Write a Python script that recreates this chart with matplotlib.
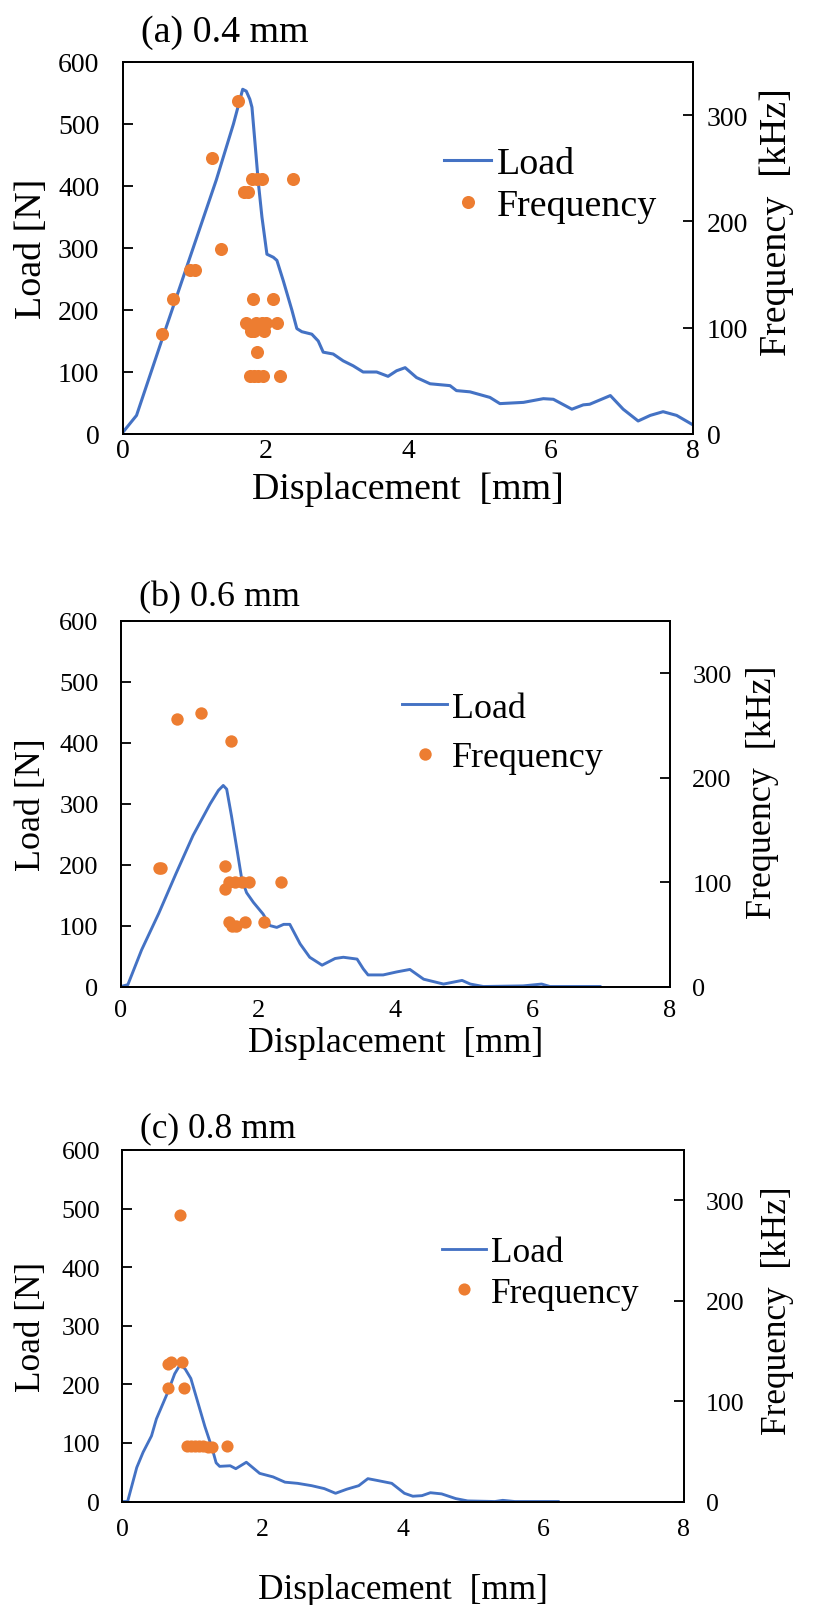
import matplotlib
matplotlib.use("Agg")
import matplotlib.pyplot as plt

plt.rcParams['font.family'] = ['Liberation Serif', 'DejaVu Serif']

# ---------------- data ----------------
# (a) 0.4 mm
disp_a = [0.00, 0.19, 0.57, 0.94, 1.31, 1.55, 1.68, 1.73, 1.78, 1.81, 1.85, 1.90, 1.95,
          2.02, 2.11, 2.16, 2.25, 2.37, 2.44, 2.51, 2.65, 2.74, 2.81, 2.95, 3.09, 3.23,
          3.37, 3.56, 3.72, 3.84, 3.96, 4.12, 4.31, 4.59, 4.68, 4.87, 5.15, 5.29, 5.62,
          5.90, 6.04, 6.30, 6.46, 6.55, 6.84, 7.02, 7.23, 7.40, 7.58, 7.77, 7.98]
load_a = [3, 30, 160, 285, 410, 500, 556, 553, 540, 527, 473, 405, 350,
          290, 285, 280, 247, 200, 170, 165, 161, 150, 132, 129, 118, 110,
          100, 100, 93, 102, 107, 91, 81, 78, 70, 68, 59, 49, 51,
          57, 56, 40, 47, 48, 62, 40, 21, 30, 36, 30, 16]
fd_a = [1.61, 1.25, 1.81, 1.88, 1.95, 2.38, 1.70, 1.76, 1.38, 0.94, 1.01, 0.70, 0.55,
        1.83, 2.10, 1.73, 1.87, 1.95, 2.01, 2.16, 1.79, 1.84, 1.98, 1.88,
        1.78, 1.84, 1.90, 1.96, 2.20]
freq_a = [313, 260, 240, 240, 240, 240, 228, 228, 174, 154, 154, 127, 94,
          127, 127, 104, 104, 104, 104, 104, 97, 97, 97, 77,
          55, 55, 55, 55, 55]

# (b) 0.6 mm
disp_b = [0.00, 0.10, 0.30, 0.55, 0.80, 1.05, 1.30, 1.42, 1.49, 1.54, 1.61, 1.69, 1.76,
          1.83, 1.93, 2.07, 2.17, 2.27, 2.37, 2.46, 2.61, 2.75, 2.93, 3.12, 3.24, 3.44,
          3.53, 3.60, 3.82, 4.02, 4.21, 4.41, 4.70, 4.97, 5.09, 5.28, 5.86, 6.13, 6.25, 6.98]
load_b = [0, 3, 60, 120, 185, 248, 300, 322, 330, 324, 280, 225, 176,
          154, 138, 119, 100, 97, 102, 102, 70, 48, 35, 46, 48, 45,
          29, 19, 19, 24, 28, 12, 4, 10, 4, 0, 1, 4, 0, 0]
fd_b = [0.55, 0.59, 0.81, 1.17, 1.61, 1.52, 1.58, 1.66, 1.76, 1.86, 2.33, 1.52,
        1.57, 1.62, 1.67, 1.81, 2.08]
freq_b = [113, 113, 256, 262, 235, 115, 100, 100, 100, 100, 100, 93,
          62, 58, 58, 62, 62]

# (c) 0.8 mm
disp_c = [0.00, 0.08, 0.21, 0.30, 0.42, 0.49, 0.65, 0.75, 0.83, 0.90, 0.98, 1.08, 1.18,
          1.28, 1.34, 1.39, 1.54, 1.62, 1.77, 1.96, 2.15, 2.32, 2.50, 2.70, 2.88, 3.04,
          3.20, 3.37, 3.50, 3.63, 3.84, 4.02, 4.14, 4.27, 4.39, 4.55, 4.75, 4.92, 5.31,
          5.42, 5.59, 6.21]
load_c = [0, 0, 58, 84, 112, 141, 186, 218, 234, 226, 210, 169, 128,
          92, 66, 60, 61, 56, 67, 48, 42, 33, 31, 27, 22, 14,
          21, 27, 39, 36, 31, 14, 9, 10, 15, 13, 5, 1, 0,
          2, 0, 0]
fd_c = [0.83, 0.65, 0.70, 0.86, 0.65, 0.88, 0.92, 0.98, 1.04, 1.10, 1.16, 1.22, 1.28, 1.49]
freq_c = [285, 137, 139, 139, 113, 113, 55, 55, 55, 55, 55, 54, 54, 55]

titles = ["(a) 0.4 mm", "(b) 0.6 mm", "(c) 0.8 mm"]
load_ticks = [0, 100, 200, 300, 400, 500, 600]
freq_ticks = [0, 100, 200, 300]
disp_ticks = [0, 2, 4, 6, 8]

# ---------------- layout (pixels) ----------------
W, H = 814, 1606
fig = plt.figure(figsize=(W / 100, H / 100), dpi=100)

panels = [
    dict(box=(123, 693, 63, 435), s=1.00, title=(141, 42), leg=(444, 186), lsp=0.20,
         xl=490, yl=32, yr=777, yrc=222, xpad=3, rpad=10),
    dict(box=(121, 670, 622, 987.5), s=0.95, title=(139, 606), leg=(402, 734), lsp=0.44,
         xl=1044, yl=32, yr=762, yrc=792, xpad=9, rpad=16),
    dict(box=(122, 684, 1151, 1502.5), s=0.93, title=(140, 1137), leg=(442, 1274), lsp=0.20,
         xl=1591, yl=32, yr=777, yrc=1311, xpad=12, rpad=16),
]
data = [(disp_a, load_a, fd_a, freq_a), (disp_b, load_b, fd_b, freq_b),
        (disp_c, load_c, fd_c, freq_c)]

BLUE = '#4472C4'
ORANGE = '#ED7D31'

for p, (dx, ly, fx, fy), title in zip(panels, data, titles):
    l, r, t, b = p['box']
    s = p['s']
    big = 27.3 * s
    small = 20 * s
    ax = fig.add_axes([l / W, 1 - b / H, (r - l) / W, (b - t) / H])
    ln, = ax.plot(dx, ly, color=BLUE, lw=2.2 * s, label='Load')
    ax.set_xlim(0, 8)
    ax.set_ylim(0, 600)
    ax.set_xticks(disp_ticks)
    ax.set_yticks(load_ticks)
    ax.tick_params(axis='y', direction='in', length=7, width=1.3, pad=17 * s, labelsize=small)
    ax.tick_params(axis='x', length=0, pad=p['xpad'], labelsize=small)
    for sp in ax.spines.values():
        sp.set_linewidth(1.3)
        sp.set_color('black')

    ax2 = ax.twinx()
    dots, = ax2.plot(fx, fy, 'o', color=ORANGE, ms=9.4 * s, mew=0, label='Frequency')
    ax2.set_ylim(0, 350)
    ax2.set_yticks(freq_ticks)
    ax2.tick_params(axis='y', direction='in', length=7, width=1.3, pad=p['rpad'], labelsize=small)
    for sp in ax2.spines.values():
        sp.set_linewidth(1.3)

    ax.set_xlabel('Displacement  [mm]', fontsize=big, va='center')
    ax.xaxis.set_label_coords(0.5, (b - p['xl']) / (b - t))
    ax.set_ylabel('Load [N]', fontsize=big, va='center')
    ax.yaxis.set_label_coords((p['yl'] - l) / (r - l), 0.5)
    ax2.set_ylabel('Frequency  [kHz]', fontsize=big, va='center')
    ax2.yaxis.set_label_coords((p['yr'] - l) / (r - l), (b - p['yrc']) / (b - t))

    lx, lyc = p['leg']
    ax2.legend(handles=[ln, dots], loc='center left',
               bbox_to_anchor=(lx / W, 1 - lyc / H), bbox_transform=fig.transFigure,
               frameon=False, fontsize=big, handlelength=1.25, handletextpad=0.15,
               borderpad=0, borderaxespad=0, labelspacing=p['lsp'], numpoints=1)

    tx, tyb = p['title']
    fig.text(tx / W, 1 - tyb / H, title, fontsize=big, va='baseline', ha='left')

fig.savefig('out.png', dpi=100)
